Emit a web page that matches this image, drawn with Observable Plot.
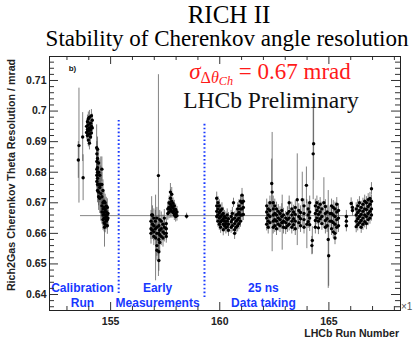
<!DOCTYPE html>
<html><head><meta charset="utf-8">
<script src="https://cdn.jsdelivr.net/npm/d3@7"></script>
<script src="https://cdn.jsdelivr.net/npm/@observablehq/plot@0.6"></script>
<style>
body{margin:0;background:#fff;}
#wrap{position:relative;width:413px;height:341px;overflow:hidden;background:#fff;}
#wrap svg text{font-weight:bold;}
.ov{position:absolute;white-space:nowrap;line-height:1;}
.serif{font-family:"Liberation Serif","DejaVu Serif",serif;transform:translateX(-50%);}
.sans{font-family:"Liberation Sans",Arial,sans-serif;font-weight:bold;}
sub{line-height:0;vertical-align:baseline;position:relative;}
</style></head><body>
<div id="wrap"></div>
<script>
// ---- data: rows are [run (x1000), error, ...resolution values] ----
const calibrationRun = [
 [153.52, 0.0060, 0.6840],
 [153.55, 0.0188, 0.6887],
 [153.72, 0.0080, 0.6915],
 [153.74, 0.0075, 0.6782],
 [153.90, 0.0022, 0.6950, 0.6930],
 [153.94, 0.0022, 0.6965, 0.6940, 0.6920],
 [153.98, 0.0022, 0.6975, 0.6955, 0.6935, 0.6905],
 [154.03, 0.0022, 0.6980, 0.6945, 0.6925, 0.6895],
 [154.08, 0.0022, 0.6960, 0.6938, 0.6915],
 [154.12, 0.0020, 0.6985, 0.6950, 0.6928],
 [154.16, 0.0020, 0.6970, 0.6945],
 [154.36, 0.0075, 0.6880],
 [154.37, 0.0040, 0.6860, 0.6835, 0.6810, 0.6790, 0.6770],
 [154.40, 0.0040, 0.6875, 0.6845, 0.6815, 0.6800, 0.6780, 0.6760, 0.6740],
 [154.45, 0.0045, 0.6830, 0.6800, 0.6760, 0.6735, 0.6720],
 [154.50, 0.0050, 0.6790, 0.6750, 0.6715],
 [154.55, 0.0090, 0.6760, 0.6730],
 [154.60, 0.0040, 0.6810, 0.6760, 0.6720, 0.6690, 0.6670],
 [154.65, 0.0035, 0.6740, 0.6700, 0.6680, 0.6660, 0.6645],
 [154.70, 0.0030, 0.6705, 0.6685, 0.6668, 0.6650, 0.6635],
 [154.72, 0.0065, 0.6620],
 [154.75, 0.0028, 0.6700, 0.6678, 0.6660, 0.6648, 0.6630],
 [154.80, 0.0028, 0.6690, 0.6670, 0.6655, 0.6640],
 [154.85, 0.0028, 0.6685, 0.6662, 0.6645, 0.6625],
 [154.88, 0.0025, 0.6665, 0.6650]
];
const earlyMeasurements = [
 [156.85, 0.0035, 0.6640, 0.6615, 0.6600],
 [156.88, 0.0060, 0.6660],
 [156.92, 0.0030, 0.6660, 0.6630, 0.6610],
 [156.98, 0.0030, 0.6650, 0.6625, 0.6605, 0.6590],
 [157.05, 0.0035, 0.6640, 0.6615],
 [157.06, 0.0140, 0.6585],
 [157.12, 0.0035, 0.6650, 0.6620, 0.6600, 0.6560, 0.6545],
 [157.19, 0.0330, 0.6789],
 [157.21, 0.0035, 0.6625, 0.6600, 0.6580, 0.6540, 0.6511],
 [157.25, 0.0030, 0.6645, 0.6610, 0.6595, 0.6570],
 [157.32, 0.0030, 0.6640, 0.6615, 0.6590],
 [157.40, 0.0030, 0.6630, 0.6605, 0.6585],
 [157.46, 0.0028, 0.6650, 0.6620, 0.6600],
 [157.55, 0.0022, 0.6632, 0.6615, 0.6600, 0.6590],
 [157.62, 0.0022, 0.6680, 0.6665],
 [157.68, 0.0022, 0.6700, 0.6685, 0.6670],
 [157.74, 0.0028, 0.6735, 0.6715, 0.6695, 0.6678],
 [157.80, 0.0022, 0.6728, 0.6705, 0.6688, 0.6672],
 [157.86, 0.0018, 0.6698, 0.6682, 0.6668],
 [157.92, 0.0018, 0.6690, 0.6675, 0.6660],
 [157.98, 0.0018, 0.6678, 0.6665, 0.6655],
 [158.04, 0.0018, 0.6670, 0.6658],
 [158.48, 0.0010, 0.6656]
];
const dataTaking25ns = [
 [159.86, 0.0020, 0.6715, 0.6690, 0.6672, 0.6655],
 [159.92, 0.0020, 0.6700, 0.6680, 0.6660, 0.6640],
 [159.98, 0.0020, 0.6690, 0.6668, 0.6650, 0.6630],
 [160.04, 0.0020, 0.6675, 0.6655, 0.6638, 0.6620],
 [160.10, 0.0020, 0.6680, 0.6660, 0.6642],
 [160.16, 0.0020, 0.6665, 0.6648, 0.6630, 0.6612],
 [160.22, 0.0020, 0.6655, 0.6640, 0.6625],
 [160.28, 0.0020, 0.6650, 0.6632, 0.6618],
 [160.34, 0.0020, 0.6660, 0.6640, 0.6622],
 [160.40, 0.0020, 0.6648, 0.6630, 0.6610],
 [160.52, 0.0020, 0.6655, 0.6638, 0.6620],
 [160.58, 0.0020, 0.6665, 0.6645, 0.6625],
 [160.63, 0.0015, 0.6700],
 [160.68, 0.0020, 0.6650, 0.6632, 0.6612, 0.6600],
 [160.75, 0.0020, 0.6660, 0.6640, 0.6620],
 [160.82, 0.0020, 0.6680, 0.6662, 0.6645, 0.6625],
 [160.88, 0.0020, 0.6690, 0.6668, 0.6650, 0.6632],
 [160.95, 0.0020, 0.6705, 0.6680, 0.6660, 0.6640],
 [161.02, 0.0022, 0.6725, 0.6700, 0.6680, 0.6660],
 [161.08, 0.0020, 0.6705, 0.6685, 0.6662],
 [162.15, 0.0022, 0.6690, 0.6670, 0.6650, 0.6630],
 [162.22, 0.0022, 0.6680, 0.6660, 0.6640, 0.6620],
 [162.30, 0.0022, 0.6700, 0.6675, 0.6655, 0.6635],
 [162.38, 0.0080, 0.6763],
 [162.40, 0.0195, 0.6735],
 [162.45, 0.0022, 0.6700, 0.6680, 0.6660, 0.6640, 0.6620],
 [162.52, 0.0022, 0.6690, 0.6665, 0.6645, 0.6625],
 [162.60, 0.0022, 0.6680, 0.6660, 0.6640, 0.6615],
 [162.68, 0.0022, 0.6672, 0.6650, 0.6630],
 [162.76, 0.0022, 0.6665, 0.6645, 0.6625],
 [162.84, 0.0022, 0.6675, 0.6655, 0.6635],
 [162.86, 0.0090, 0.6635],
 [162.92, 0.0022, 0.6660, 0.6640, 0.6620],
 [163.02, 0.0022, 0.6650, 0.6635, 0.6618],
 [163.10, 0.0022, 0.6665, 0.6645, 0.6625],
 [163.18, 0.0022, 0.6700, 0.6672, 0.6650, 0.6630],
 [163.30, 0.0022, 0.6680, 0.6660, 0.6640, 0.6620],
 [163.38, 0.0022, 0.6670, 0.6648, 0.6628],
 [163.46, 0.0022, 0.6685, 0.6662, 0.6640, 0.6615],
 [163.55, 0.0150, 0.6710],
 [163.62, 0.0022, 0.6675, 0.6655, 0.6635],
 [163.70, 0.0022, 0.6668, 0.6648, 0.6625],
 [163.78, 0.0090, 0.6710],
 [163.86, 0.0022, 0.6690, 0.6665, 0.6645, 0.6620],
 [163.97, 0.0060, 0.6757],
 [163.99, 0.0080, 0.6630],
 [164.05, 0.0022, 0.6680, 0.6660, 0.6638],
 [164.12, 0.0022, 0.6700, 0.6670, 0.6650, 0.6628],
 [164.22, 0.0030, 0.6560],
 [164.24, 0.0045, 0.6577],
 [164.28, 0.0150, 0.6860],
 [164.30, 0.0120, 0.6893],
 [164.38, 0.0022, 0.6690, 0.6665, 0.6642, 0.6620],
 [164.45, 0.0022, 0.6700, 0.6675, 0.6650],
 [164.52, 0.0022, 0.6685, 0.6662, 0.6640, 0.6618],
 [164.60, 0.0022, 0.6695, 0.6670, 0.6648],
 [164.68, 0.0022, 0.6680, 0.6655, 0.6632],
 [164.77, 0.0082, 0.6700],
 [164.84, 0.0022, 0.6688, 0.6665, 0.6642, 0.6620],
 [164.92, 0.0022, 0.6670, 0.6648, 0.6625],
 [164.97, 0.0160, 0.6580],
 [164.99, 0.0100, 0.6527],
 [165.05, 0.0022, 0.6665, 0.6640],
 [165.12, 0.0022, 0.6690, 0.6665, 0.6640, 0.6615],
 [165.20, 0.0022, 0.6685, 0.6660, 0.6635, 0.6605],
 [165.28, 0.0022, 0.6680, 0.6655, 0.6630, 0.6600, 0.6585],
 [165.36, 0.0022, 0.6695, 0.6670, 0.6645, 0.6620],
 [165.44, 0.0022, 0.6675, 0.6650, 0.6625],
 [165.80, 0.0020, 0.6655, 0.6640, 0.6625],
 [166.02, 0.0018, 0.6698],
 [166.08, 0.0018, 0.6685, 0.6675],
 [166.25, 0.0020, 0.6680, 0.6660, 0.6640, 0.6622],
 [166.32, 0.0020, 0.6690, 0.6668, 0.6648, 0.6628],
 [166.40, 0.0020, 0.6700, 0.6675, 0.6655, 0.6635],
 [166.48, 0.0020, 0.6685, 0.6662, 0.6642, 0.6620],
 [166.56, 0.0020, 0.6695, 0.6672, 0.6650, 0.6630],
 [166.64, 0.0020, 0.6705, 0.6680, 0.6660, 0.6638],
 [166.72, 0.0020, 0.6700, 0.6678, 0.6655, 0.6632],
 [166.80, 0.0020, 0.6710, 0.6688, 0.6665, 0.6645],
 [166.88, 0.0020, 0.6714, 0.6695, 0.6672, 0.6650],
 [166.95, 0.0020, 0.6746, 0.6705, 0.6680, 0.6660]
];
const meanResolution = 0.6658;          // horizontal reference line
const meanRange = [153.62, 166.95];     // first and last run
const separatorRuns = [155.37, 159.30];
const separatorLow = [0.6403, 0.6390];
const separatorHigh = [0.6973, 0.6962];
const periodNames = ["Calibration\nRun", "Early\nMeasurements", "25 ns\nData taking"];
const periodCentres = [153.71, 157.15, 162.00];
const xTicks = [155, 160, 165];
const yTicks = [0.64, 0.65, 0.66, 0.67, 0.68, 0.69, 0.70, 0.71];

// ---- build tables ----
const points = [];
for (const rows of [calibrationRun, earlyMeasurements, dataTaking25ns])
  for (const [run, e, ...vals] of rows) for (const v of vals) points.push({run, v, e});
const separators = separatorRuns.map((run, i) => ({run, lo: separatorLow[i], hi: separatorHigh[i]}));
const periods = periodNames.map((t, i) => ({x: periodCentres[i], t}));

const W = 413, H = 341, mL = 49, mR = 13, mT = 56, mB = 31;
const iW = W - mL - mR, iH = H - mT - mB;
const xMinor = d3.range(153, 169).filter(d => !xTicks.includes(d));
const yMinor = d3.range(318, 359).map(i => +(i * 0.002).toFixed(3)).filter(d => !yTicks.some(t => Math.abs(t - d) < 1e-6));
const tickStroke = "#333";

const chart = Plot.plot({
  width: W, height: H,
  marginLeft: mL, marginRight: mR, marginTop: mT, marginBottom: mB,
  style: {fontFamily: '"Liberation Sans", Arial, sans-serif', fontSize: "10.5px", background: "white", color: "#222"},
  x: {domain: [152.2, 168.28], ticks: xTicks, tickSize: 0, tickPadding: 7, tickFormat: d => String(d), label: null},
  y: {domain: [0.63477, 0.71785], ticks: yTicks, tickSize: 0, tickPadding: 3, tickFormat: d => String(d), label: null},
  marks: [
    Plot.ruleY([meanResolution], {x1: meanRange[0], x2: meanRange[1], stroke: "#858585", strokeWidth: 1}),
    Plot.ruleX(points, {x: "run", y1: d => d.v - d.e, y2: d => d.v + d.e, stroke: "#4a4a4a", strokeWidth: 0.7}),
    Plot.dot(points, {x: "run", y: "v", r: 1.7, fill: "#000", stroke: null}),
    Plot.ruleX(separators, {x: "run", y1: "lo", y2: "hi", stroke: "#1838ff", strokeWidth: 2, strokeDasharray: "1.6,2.3"}),
    Plot.text(periods, {x: "x", y: 0.6399, text: "t", fill: "#1838ff", fontSize: 12, lineHeight: 1.25}),
    Plot.text(["b)"], {x: 153.25, y: 0.7139, text: d => d, fontSize: 8, fill: "#111"}),
    // inward ticks on all four sides
    Plot.tickX(xTicks, {x: d => d, insetTop: iH - 8, stroke: tickStroke}),
    Plot.tickX(xMinor, {x: d => d, insetTop: iH - 4, stroke: tickStroke}),
    Plot.tickX(xTicks, {x: d => d, insetBottom: iH - 8, stroke: tickStroke}),
    Plot.tickX(xMinor, {x: d => d, insetBottom: iH - 4, stroke: tickStroke}),
    Plot.tickY(yTicks, {y: d => d, insetRight: iW - 9, stroke: tickStroke}),
    Plot.tickY(yMinor, {y: d => d, insetRight: iW - 5, stroke: tickStroke}),
    Plot.tickY(yTicks, {y: d => d, insetLeft: iW - 9, stroke: tickStroke}),
    Plot.tickY(yMinor, {y: d => d, insetLeft: iW - 5, stroke: tickStroke}),
    Plot.frame({stroke: "#222"})
  ]
});
const wrap = document.getElementById("wrap");
wrap.appendChild(chart);

function overlay(html, cls, css) {
  const d = document.createElement("div");
  d.className = "ov " + cls;
  d.innerHTML = html;
  Object.assign(d.style, css);
  wrap.appendChild(d);
  return d;
}
overlay("RICH II", "serif", {left: "229px", top: "2px", fontSize: "25px"});
overlay("Stability of Cherenkov angle resolution", "serif", {left: "227px", top: "27px", fontSize: "23px"});
overlay('<i>σ</i><sub style="font-size:70%;top:0.25em">Δ<i>θ</i><sub style="font-size:76%;top:0.2em"><i>Ch</i></sub></sub> = 0.67 mrad', "serif",
        {left: "270px", top: "62px", fontSize: "23px", lineHeight: "0.9", color: "#ff1a1a"});
overlay("LHCb Preliminary", "serif", {left: "271px", top: "90px", fontSize: "23.5px", lineHeight: "0.9", color: "#111"});
overlay("Rich2Gas Cherenkov Theta Resolution / mrad", "sans",
        {left: "11px", top: "175px", fontSize: "10.7px", color: "#222", transform: "translate(-50%,-50%) rotate(-90deg)"});
overlay("LHCb Run Number", "sans", {right: "14px", top: "328px", fontSize: "10.6px", color: "#222"});
overlay("×1", "", {left: "401px", top: "302px", fontSize: "10px", color: "#555", fontFamily: '"Liberation Sans",Arial,sans-serif'});
</script>
</body></html>
